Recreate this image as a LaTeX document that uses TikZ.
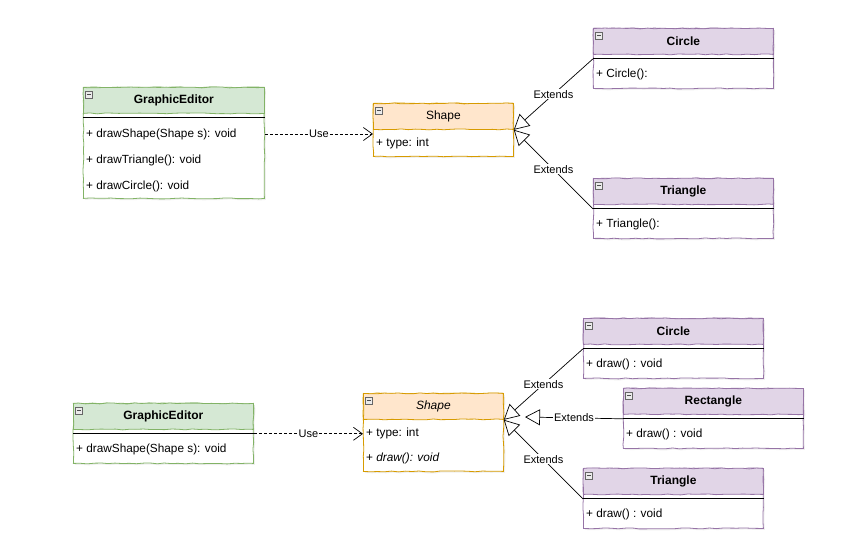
\documentclass[tikz,border=0pt]{standalone}
\usepackage{fontspec}
\setmainfont{Liberation Sans}
\usetikzlibrary{arrows.meta,decorations.pathmorphing,shadows}
\definecolor{gefill}{HTML}{D5E8D4}\definecolor{gedraw}{HTML}{82B366}
\definecolor{shfill}{HTML}{FFE6CC}\definecolor{shdraw}{HTML}{D79B00}
\definecolor{pufill}{HTML}{E1D5E7}\definecolor{pudraw}{HTML}{9673A6}
\tikzset{
  sketch/.style={decorate,decoration={random steps,segment length=7pt,amplitude=0.5pt}},
  classbody/.style={draw=#1,fill=white,rectangle,inner sep=0pt,line width=0.8pt,sketch,
     drop shadow={shadow xshift=1.5pt,shadow yshift=-1.5pt,opacity=0.12}},
  classhead/.style={draw=#1,rectangle,inner sep=0pt,line width=0.8pt,minimum height=26pt,sketch,
     font=\fontsize{12}{14}\selectfont\bfseries},
  row/.style={anchor=west,inner sep=0pt,font=\fontsize{11.8}{14}\selectfont},
  sep/.style={black,line width=0.8pt},
  lbl/.style={fill=white,inner sep=0.8pt,font=\fontsize{11}{13}\selectfont},
  ext/.style={line width=0.7pt,-{Triangle[length=15pt,width=16pt,fill=white,line width=0.7pt]}},
  use/.style={line width=0.7pt,dashed,dash pattern=on 3pt off 2pt,-{Straight Barb[length=9pt,width=13pt,line width=0.7pt]}},
  icon/.style={draw=black!60,fill=black!8,line width=0.6pt}
}
% #1 id, #2 x, #3 y, #4 w, #5 h, #6 fill, #7 draw, #8 title
\newcommand{\ClassBox}[8]{%
  \node[classbody=#7,minimum width=#4pt,minimum height=#5pt,anchor=north west] (#1) at (#2,#3) {};
  \node[classhead=#7,fill=#6,minimum width=#4pt,anchor=north west] (#1-h) at (#2,#3) {#8};
  \draw[icon] ([xshift=2.5pt,yshift=-4pt]#1-h.north west) rectangle ++(7pt,-7pt);
  \draw[black!70,line width=0.6pt] ([xshift=4pt,yshift=-7.5pt]#1-h.north west) -- ++(4pt,0);
}
\newcommand{\SepLine}[1]{%
  \draw[sep] ([yshift=-4pt]#1-h.south west) -- ([yshift=-4pt]#1-h.south east);
  \coordinate (#1-s) at ([yshift=-4pt]#1-h.south west);
}
\begin{document}
\begin{tikzpicture}[x=1pt,y=-1pt]
\useasboundingbox[fill=white] (0,0) rectangle (843,547);

% ---------- top diagram ----------
\ClassBox{ge1}{83}{87}{181}{111}{gefill}{gedraw}{GraphicEditor}
\SepLine{ge1}
\node[row] (ge1-r1) at (86,134) {+ drawShape(Shape s): void};
\node[row] (ge1-r2) at (86,160) {+ drawTriangle(): void};
\node[row] (ge1-r3) at (86,186) {+ drawCircle(): void};

\ClassBox{sh1}{373}{103}{140}{53}{shfill}{shdraw}{\mdseries Shape}
\node[row] (sh1-r1) at (376,143) {+ type: int};

\ClassBox{ci1}{593}{28}{180}{60}{pufill}{pudraw}{Circle}
\SepLine{ci1}
\node[row] (ci1-r1) at (596,74) {+ Circle():};

\ClassBox{tr1}{593}{178}{180}{60}{pufill}{pudraw}{Triangle}
\SepLine{tr1}
\node[row] (tr1-r1) at (596,224) {+ Triangle():};

\draw[use] (ge1-h.east |- ge1-r1) -- node[lbl] {Use} (sh1.west |- ge1-r1);
\draw[ext] (ci1-s) -- node[lbl] {Extends} (sh1-h.south east);
\draw[ext] (tr1-s) -- node[lbl] {Extends} (sh1-h.south east);

% ---------- bottom diagram ----------
\ClassBox{ge2}{73}{403}{180}{60}{gefill}{gedraw}{GraphicEditor}
\SepLine{ge2}
\node[row] (ge2-r1) at (76,449) {+ drawShape(Shape s): void};

\ClassBox{sh2}{363}{393}{140}{78}{shfill}{shdraw}{\mdseries\itshape Shape}
\node[row] (sh2-r1) at (366,433) {+ type: int};
\node[row] (sh2-r2) at (366,458) {+ \itshape draw(): void};

\ClassBox{ci2}{583}{318}{180}{60}{pufill}{pudraw}{Circle}
\SepLine{ci2}
\node[row] (ci2-r1) at (586,364) {+ draw() : void};

\ClassBox{re2}{623}{388}{180}{60}{pufill}{pudraw}{Rectangle}
\SepLine{re2}
\node[row] (re2-r1) at (626,434) {+ draw() : void};

\ClassBox{tr2}{583}{468}{180}{60}{pufill}{pudraw}{Triangle}
\SepLine{tr2}
\node[row] (tr2-r1) at (586,514) {+ draw() : void};

\coordinate (re2-end) at (525,417);
\draw[use] (ge2-h.east |- ge2-s) -- node[lbl] {Use} (sh2.west |- ge2-s);
\draw[ext] (ci2-s) -- node[lbl] {Extends} (sh2-h.south east);
\draw[ext] (re2-s) -- node[lbl] {Extends} (re2-end);
\draw[ext] (tr2-s) -- node[lbl] {Extends} (sh2-h.south east);
\end{tikzpicture}
\end{document}
